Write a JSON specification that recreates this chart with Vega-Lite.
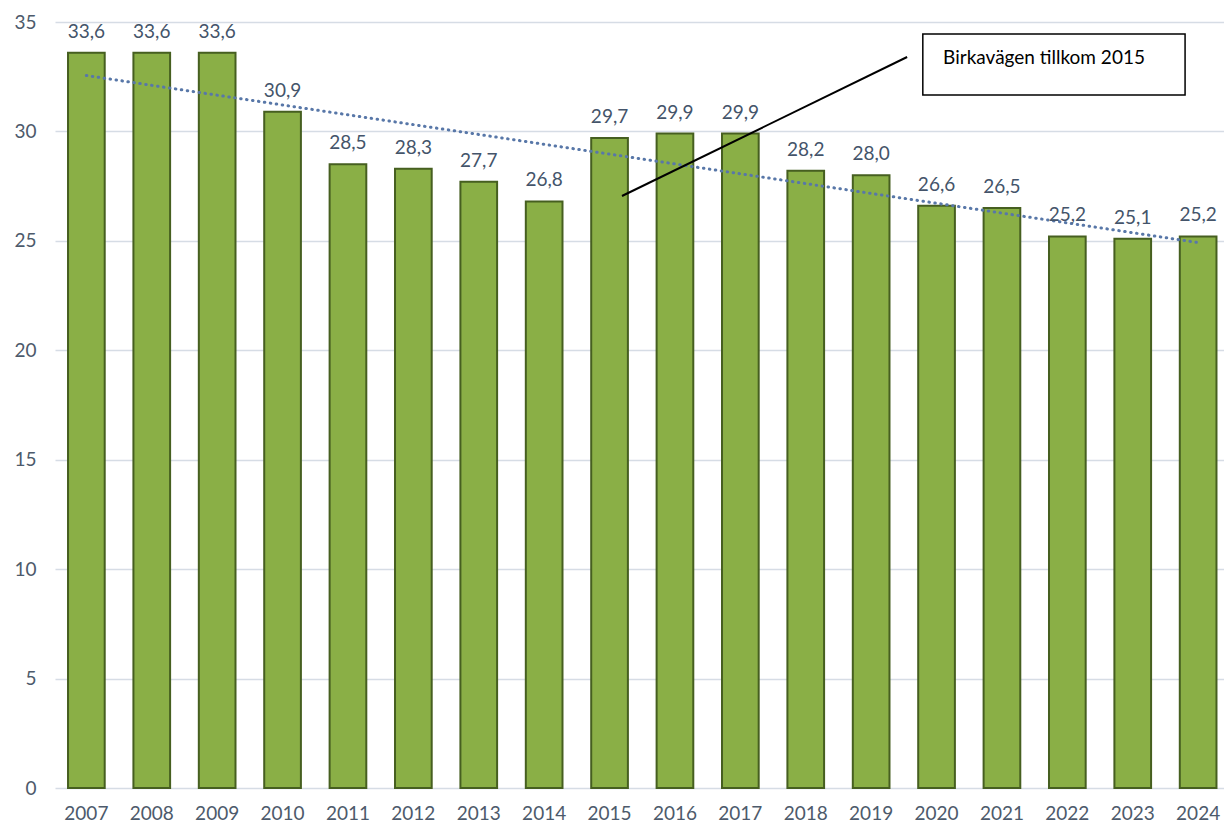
{
  "$schema": "https://vega.github.io/schema/vega-lite/v6.json",
  "autosize": {"type": "none"},
  "width": 1169,
  "height": 766,
  "padding": {"left": 55, "top": 22, "right": 0, "bottom": 38},
  "background": "white",
  "config": {
    "view": {"stroke": null},
    "font": "Lato",
    "locale": {"number": {"decimal": ",", "thousands": " ", "grouping": [3], "currency": ["", " kr"]}},
    "axis": {"labelFont": "Lato", "labelFontSize": 19, "labelColor": "#4d5a6b", "domain": false, "ticks": false}
  },
  "datasets": {
    "bars": [
      {"year": 2007, "value": 33.6}, {"year": 2008, "value": 33.6}, {"year": 2009, "value": 33.6},
      {"year": 2010, "value": 30.9}, {"year": 2011, "value": 28.5}, {"year": 2012, "value": 28.3},
      {"year": 2013, "value": 27.7}, {"year": 2014, "value": 26.8}, {"year": 2015, "value": 29.7},
      {"year": 2016, "value": 29.9}, {"year": 2017, "value": 29.9}, {"year": 2018, "value": 28.2},
      {"year": 2019, "value": 28.0}, {"year": 2020, "value": 26.6}, {"year": 2021, "value": 26.5},
      {"year": 2022, "value": 25.2}, {"year": 2023, "value": 25.1}, {"year": 2024, "value": 25.2}
    ],
    "pointer": [
      {"x": 2015.19, "y": 27.05},
      {"x": 2019.55, "y": 33.4}
    ],
    "box": [
      {"x": 2019.79, "x2": 2023.8, "y": 34.45, "y2": 31.66, "label": "Birkavägen tillkom 2015", "tx": 2020.1, "ty": 33.36}
    ]
  },
  "resolve": {"scale": {"x": "independent"}},
  "layer": [
    {
      "data": {"name": "bars"},
      "layer": [
        {
          "mark": {"type": "bar", "fill": "#8aaf46", "stroke": "#465f20", "strokeWidth": 2},
          "encoding": {
            "x": {"field": "year", "type": "ordinal",
                  "scale": {"paddingInner": 0.439, "paddingOuter": 0.157, "align": 0.634},
                  "axis": {"title": null, "labelAngle": 0, "labelPadding": 16, "grid": false}},
            "y": {"field": "value", "type": "quantitative", "title": null,
                  "scale": {"domain": [0, 35], "nice": false},
                  "axis": {"values": [0, 5, 10, 15, 20, 25, 30, 35], "gridColor": "#d6dce5", "gridWidth": 1.5, "labelPadding": 19}}
          }
        },
        {
          "transform": [{"regression": "value", "on": "year"}],
          "mark": {"type": "line", "stroke": "#5877a8", "strokeWidth": 3, "strokeDash": [0.5, 5.5], "strokeCap": "round"},
          "encoding": {
            "x": {"field": "year", "type": "ordinal"},
            "y": {"field": "value", "type": "quantitative", "title": null, "scale": {"domain": [0, 35], "nice": false}}
          }
        },
        {
          "mark": {"type": "text", "baseline": "bottom", "dy": -11, "fontSize": 19, "color": "#44546a", "font": "Lato"},
          "encoding": {
            "x": {"field": "year", "type": "ordinal"},
            "y": {"field": "value", "type": "quantitative", "title": null, "scale": {"domain": [0, 35], "nice": false}},
            "text": {"field": "value", "type": "quantitative", "format": ".1f"}
          }
        }
      ]
    },
    {
      "data": {"name": "pointer"},
      "mark": {"type": "line", "stroke": "black", "strokeWidth": 2},
      "encoding": {
        "x": {"field": "x", "type": "quantitative", "scale": {"domain": [2006.5206, 2024.3952], "nice": false, "zero": false}, "axis": null},
        "y": {"field": "y", "type": "quantitative", "title": null, "scale": {"domain": [0, 35], "nice": false}}
      }
    },
    {
      "data": {"name": "box"},
      "layer": [
        {
          "mark": {"type": "rect", "fill": "white", "stroke": "black", "strokeWidth": 1.5},
          "encoding": {
            "x": {"field": "x", "type": "quantitative", "scale": {"domain": [2006.5206, 2024.3952], "nice": false, "zero": false}, "axis": null},
            "x2": {"field": "x2"},
            "y": {"field": "y", "type": "quantitative", "title": null, "scale": {"domain": [0, 35], "nice": false}},
            "y2": {"field": "y2"}
          }
        },
        {
          "mark": {"type": "text", "align": "left", "baseline": "middle", "fontSize": 19, "color": "black", "font": "Lato"},
          "encoding": {
            "x": {"field": "tx", "type": "quantitative", "scale": {"domain": [2006.5206, 2024.3952], "nice": false, "zero": false}, "axis": null},
            "y": {"field": "ty", "type": "quantitative", "title": null, "scale": {"domain": [0, 35], "nice": false}},
            "text": {"field": "label"}
          }
        }
      ]
    }
  ]
}
